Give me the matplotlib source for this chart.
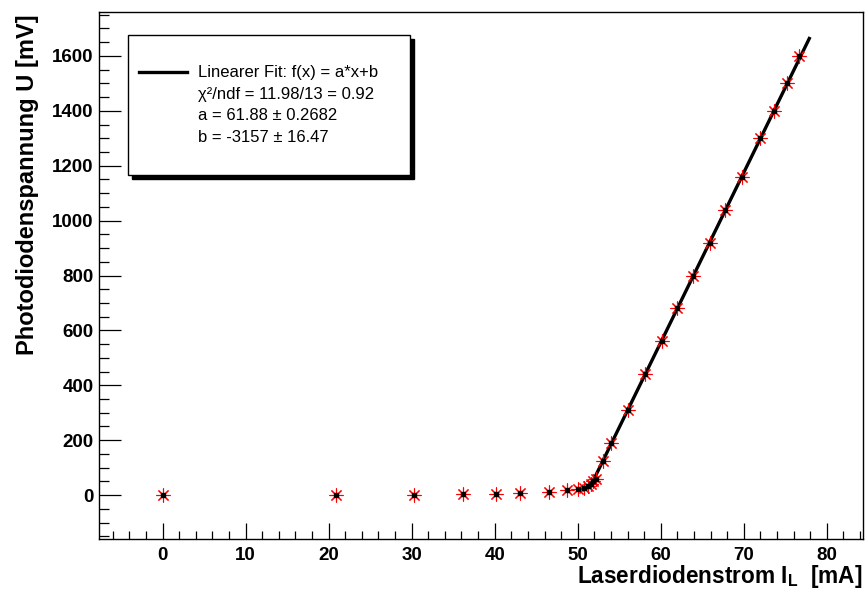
import numpy as np
import matplotlib
matplotlib.use("Agg")
import matplotlib.pyplot as plt
from matplotlib.patches import Rectangle
from matplotlib.lines import Line2D

plt.rcParams['font.family'] = ['Liberation Sans', 'DejaVu Sans']
plt.rcParams['mathtext.fontset'] = 'custom'
plt.rcParams['mathtext.rm'] = 'Liberation Sans'
plt.rcParams['mathtext.bf'] = 'Liberation Sans:bold'

current = [0, 20.9, 30.3, 36.2, 40.1, 43.0, 46.6, 48.7, 50.0, 50.7, 51.2, 51.6,
           51.9, 52.2, 53.0, 54.0, 56.0, 58.1, 60.1, 62.0, 63.9, 65.9, 67.8,
           69.8, 72.0, 73.6, 75.2, 76.7]
voltage = [0, 0, 1.5, 4, 5, 7, 12, 17, 21, 26, 33, 41,
           50, 60, 125, 188, 310, 440, 560, 680, 800, 920, 1040,
           1160, 1300, 1400, 1500, 1600]

# fit result
fit_a = 61.88
fit_b = -3157
fit_range = (51.9, 77.9)
legend_lines = ["Linearer Fit: f(x) = a*x+b",
                "\u03c7\u00b2/ndf = 11.98/13 = 0.92",
                "a = 61.88 \u00b1 0.2682",
                "b = -3157 \u00b1 16.47"]

W, H = 865, 591
fig = plt.figure(figsize=(W / 100, H / 100), dpi=100)


def fx(px):
    return px / W


def fy(py):
    return 1 - py / H


ax = fig.add_axes([fx(99), fy(539), fx(863) - fx(99), fy(12) - fy(539)])

xf = np.linspace(fit_range[0], fit_range[1], 50)
ax.plot(xf, fit_a * xf + fit_b, color='black', lw=2.4, zorder=2)
ax.plot(current, voltage, linestyle='none', marker=(8, 2, 0), markersize=10,
        markeredgecolor='red', markeredgewidth=0.8, zorder=3)
ax.plot(current, voltage, linestyle='none', marker='s', markersize=2.3,
        color='black', zorder=4)

ax.set_xlim(-7.67, 84.37)
ax.set_ylim(-160, 1760)
ax.set_xticks(np.arange(0, 81, 10))
ax.set_xticks(np.arange(-6, 85, 2), minor=True)
ax.set_yticks(np.arange(0, 1601, 200))
ax.set_yticks(np.arange(-150, 1760, 50), minor=True)
ax.tick_params(axis='both', which='both', direction='in', top=False, right=False,
               width=0.9, labelsize=13.5)
ax.tick_params(axis='x', which='major', length=11.5, pad=6)
ax.tick_params(axis='x', which='minor', length=5.8)
ax.tick_params(axis='y', which='major', length=15.8, pad=4)
ax.tick_params(axis='y', which='minor', length=7.2)
for lab in ax.get_xticklabels() + ax.get_yticklabels():
    lab.set_fontweight('bold')
for sp in ax.spines.values():
    sp.set_linewidth(1.0)

fig.text(fx(862), fy(577), r"Laserdiodenstrom I$_{\mathbf{L}}$  [mA]",
         ha='right', va='center', fontsize=16.3, fontweight='bold')
fig.text(fx(28), fy(14), "Photodiodenspannung U [mV]", rotation=90,
         ha='center', va='top', fontsize=17, fontweight='bold')

# legend box with ROOT-like shadow
shadow = Rectangle((fx(132), fy(179)), fx(410) - fx(128), fy(35) - fy(175),
                   transform=fig.transFigure, facecolor='black', edgecolor='black',
                   zorder=5)
box = Rectangle((fx(128), fy(175)), fx(410) - fx(128), fy(35) - fy(175),
                transform=fig.transFigure, facecolor='white', edgecolor='black',
                lw=1.0, zorder=6)
fig.patches.extend([shadow, box])
fig.lines.append(Line2D([fx(139), fx(187)], [fy(72), fy(72)], color='black',
                        lw=2.4, transform=fig.transFigure, zorder=7))
for i, t in enumerate(legend_lines):
    fig.text(fx(198), fy(72 + 22 * i), t, ha='left', va='center', fontsize=12,
             zorder=8)

fig.savefig("out.png", dpi=100)
